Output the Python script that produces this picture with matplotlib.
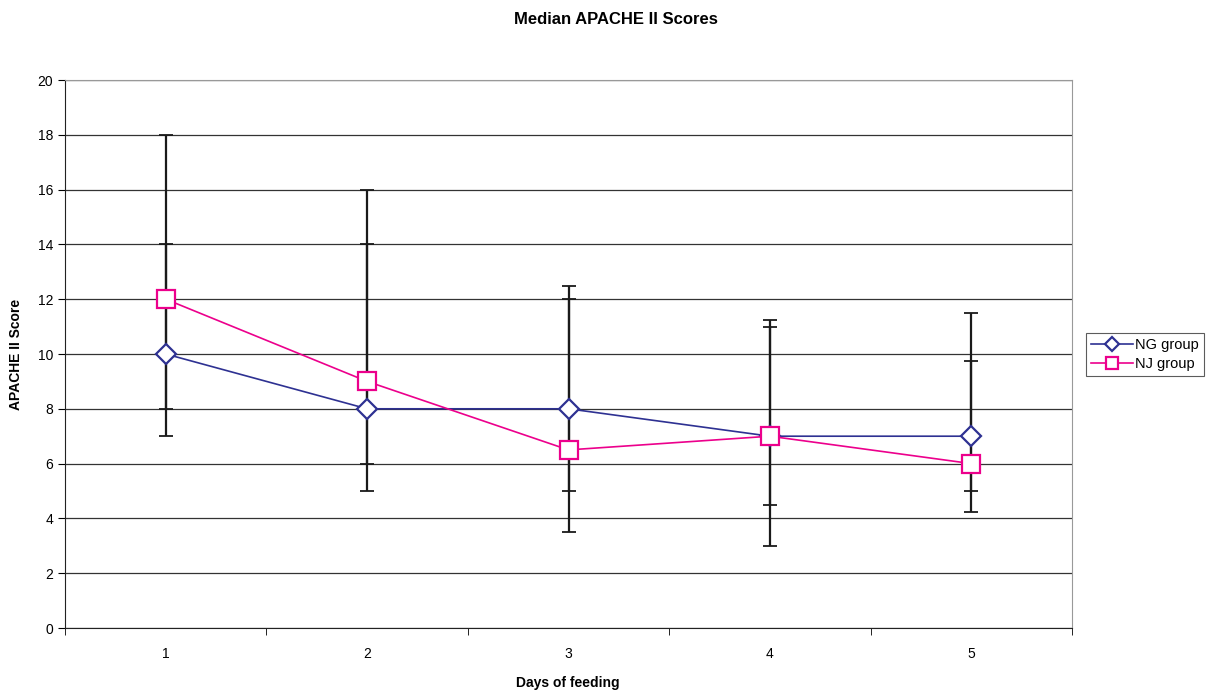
import matplotlib
matplotlib.use("Agg")
import matplotlib.pyplot as plt
import numpy as np

days = [1, 2, 3, 4, 5]
ng_median = [10, 8, 8, 7, 7]
ng_low = [7, 5, 5, 4.5, 5]
ng_high = [14, 14, 12, 11, 11.5]
nj_median = [12, 9, 6.5, 7, 6]
nj_low = [8, 6, 3.5, 3, 4.25]
nj_high = [18, 16, 12.5, 11.25, 9.75]
yticks = list(range(0, 21, 2))

plt.rcParams['font.family'] = ['Liberation Sans', 'DejaVu Sans']

fig = plt.figure(figsize=(12.1, 6.9), dpi=100)
ax = fig.add_axes([65/1210, 62/690, (1072-65)/1210, (628-80)/690])

x = np.array(days, dtype=float)
ng_col = '#2E3192'
nj_col = '#EC008C'

for med, lo, hi in [(ng_median, ng_low, ng_high), (nj_median, nj_low, nj_high)]:
    med = np.array(med); lo = np.array(lo); hi = np.array(hi)
    ax.errorbar(x, med, yerr=[med - lo, hi - med], fmt='none', ecolor='#1a1a1a',
                elinewidth=1.6, capsize=5, capthick=1.3, zorder=3)

ax.plot(x, ng_median, color=ng_col, lw=1.2, marker='D', ms=10, mfc='white',
        mec=ng_col, mew=1.6, label='NG group', zorder=4)
ax.plot(x, nj_median, color=nj_col, lw=1.2, marker='s', ms=12.5, mfc='white',
        mec=nj_col, mew=1.6, label='NJ group', zorder=5)

ax.set_xlim(0.5, 5.5)
ax.set_ylim(0, 20)
ax.set_yticks(yticks)
ax.yaxis.grid(True, color='#333333', lw=0.9)
ax.set_axisbelow(True)
ax.set_xticks(days)
ax.set_xticks(np.arange(0.5, 5.6, 1), minor=True)
ax.tick_params(axis='x', which='major', length=0, pad=14, labelsize=10)
ax.tick_params(axis='x', which='minor', length=5, direction='out')
ax.tick_params(axis='y', length=5, direction='out', labelsize=10)

for s in ['top', 'right']:
    ax.spines[s].set_color('#999999')
for s in ['left', 'bottom']:
    ax.spines[s].set_color('#222222')

fig.text(568/1210, 1 - 683/690, 'Days of feeding', fontsize=10, fontweight='bold',
         ha='center', va='center')
fig.text(16/1210, 1 - 354/690, 'APACHE II Score', fontsize=10, fontweight='bold',
         ha='center', va='center', rotation=90)
fig.text(616/1210, 1 - 19/690, 'Median APACHE II Scores', fontsize=12, fontweight='bold',
         ha='center', va='center')

leg = ax.legend(loc='center left', bbox_to_anchor=(1.014, 0.499), fontsize=10.5,
                frameon=True, fancybox=False, edgecolor='#333333',
                borderpad=0.35, handlelength=2.9, handletextpad=0.1, labelspacing=0.35,
                borderaxespad=0, markerscale=0.7)
leg.get_frame().set_linewidth(0.8)

fig.savefig('out.png', dpi=100)
